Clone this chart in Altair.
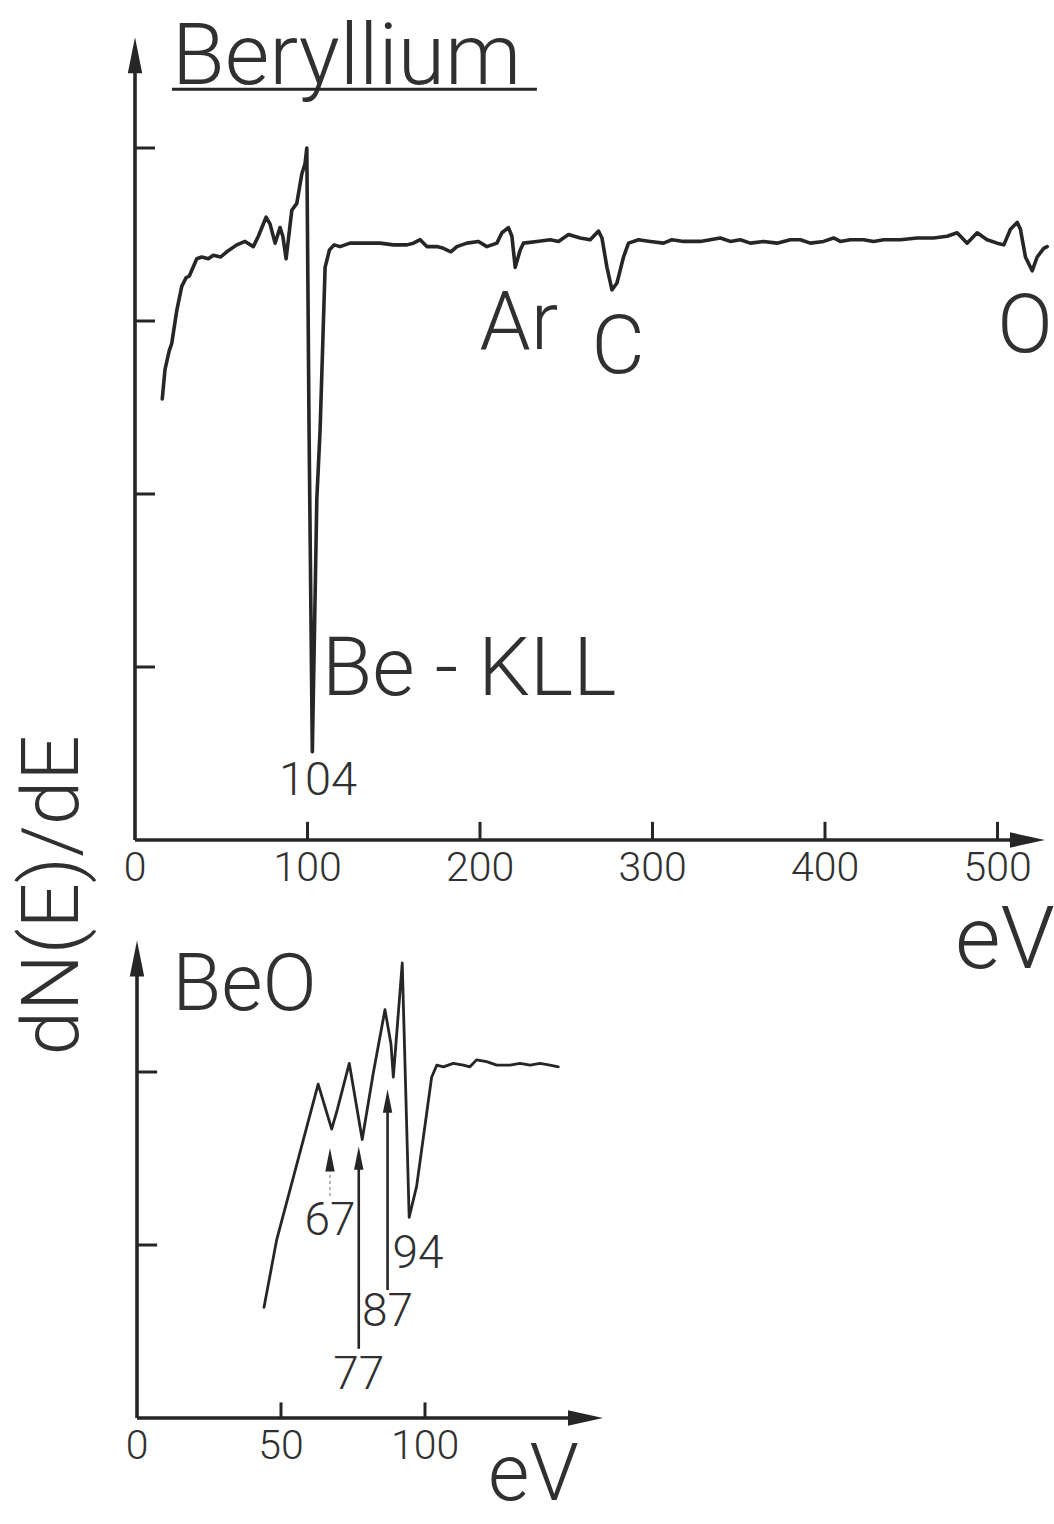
import altair as alt
import pandas as pd

# ---------------- data ----------------
# Beryllium spectrum: energy (eV) and dN(E)/dE in arbitrary units (1 unit = 1 y-tick)
be_ev = [15.8, 17.4, 19.9, 21.3, 24.2, 27.1, 29.6, 31.5, 35.8, 38.7,
         42.5, 45.4, 49.7, 53.2, 59.0, 63.8, 68.6, 71.5, 76.0, 78.3,
         81.2, 84.1, 85.7, 87.6, 90.9, 93.8, 96.7, 98.6, 99.6, 100.9,
         102.8, 105.4, 107.3, 110.2, 112.7, 115.4, 118.9, 124.7, 132.4, 142.1,
         149.8, 157.6, 161.4, 165.3, 169.2, 175.0, 178.8, 183.1, 186.6, 192.4,
         199.1, 204.0, 209.8, 212.7, 216.5, 218.5, 220.4, 223.3, 225.2, 233.0,
         240.7, 245.5, 251.3, 258.1, 263.9, 268.7, 270.7, 273.6, 276.5, 279.4,
         283.2, 286.1, 291.9, 298.7, 306.4, 311.3, 318.0, 327.7, 339.3, 345.1,
         350.9, 356.7, 364.4, 372.2, 379.9, 385.7, 391.5, 399.2, 405.0, 408.9,
         414.7, 422.4, 428.2, 434.0, 443.7, 453.4, 463.0, 470.8, 476.6, 482.4,
         488.2, 494.0, 499.8, 503.7, 507.5, 511.4, 513.3, 516.2, 520.1, 523.0,
         526.8, 528.8]
be_val = [2.55, 2.72, 2.83, 2.87, 3.06, 3.20, 3.25, 3.26, 3.36, 3.37,
          3.36, 3.38, 3.37, 3.40, 3.44, 3.46, 3.43, 3.49, 3.60, 3.56,
          3.45, 3.54, 3.49, 3.36, 3.64, 3.68, 3.85, 3.91, 4.00, 2.37,
          0.51, 1.97, 2.37, 3.31, 3.41, 3.44, 3.43, 3.45, 3.45, 3.45,
          3.44, 3.44, 3.45, 3.47, 3.43, 3.43, 3.42, 3.40, 3.43, 3.45,
          3.46, 3.43, 3.45, 3.51, 3.54, 3.49, 3.31, 3.41, 3.45, 3.46,
          3.47, 3.46, 3.50, 3.48, 3.47, 3.52, 3.48, 3.31, 3.18, 3.22,
          3.37, 3.45, 3.47, 3.46, 3.45, 3.47, 3.46, 3.46, 3.48, 3.46,
          3.47, 3.45, 3.46, 3.45, 3.47, 3.47, 3.45, 3.46, 3.48, 3.46,
          3.47, 3.47, 3.46, 3.47, 3.47, 3.48, 3.48, 3.49, 3.51, 3.45,
          3.51, 3.47, 3.45, 3.44, 3.53, 3.57, 3.53, 3.37, 3.29, 3.37,
          3.42, 3.43]

# BeO spectrum
beo_ev = [44.1, 48.5, 62.9, 67.6, 69.5, 73.7, 78.2, 82.0, 86.1, 88.2,
          89.0, 92.1, 94.5, 97.1, 102.3, 104.1, 106.4, 109.8, 113.3, 115.6,
          117.9, 121.4, 124.9, 129.5, 133.0, 136.5, 139.9, 143.4, 146.3]
beo_val = [0.64, 1.03, 1.93, 1.67, 1.78, 2.05, 1.61, 1.99, 2.36, 2.16,
           1.97, 2.63, 1.16, 1.34, 1.97, 2.04, 2.03, 2.05, 2.04, 2.03,
           2.07, 2.06, 2.04, 2.04, 2.05, 2.04, 2.05, 2.04, 2.03]

top_xticks = [0, 100, 200, 300, 400, 500]
top_yticks = [1, 2, 3, 4]
bot_xticks = [0, 50, 100]
bot_yticks = [1, 2]

# peak annotations (label, centre x in eV, baseline y in units)
top_peaks = ["Ar", "C", "O"]
top_peak_x = [222.5, 280.0, 516.0]
top_peak_y = [2.84, 2.70, 2.82]

beo_arrows = [67, 77, 87]          # marked peak energies (eV)
beo_tip = [1.57, 1.58, 1.91]       # arrow tip heights
beo_tail = [1.27, 0.40, 0.74]      # arrow tail heights
beo_lab_y = [1.14, 0.25, 0.61]     # label heights

# ---------------- layout ----------------
W, H = 1054, 1524
T_X0, T_PX = 135, 1.725   # top panel: px of 0 eV, px per eV
T_Y0, T_PY = 840, 173     # top panel: px of 0 units, px per unit
B_X0, B_PX = 137, 2.88
B_Y0, B_PY = 1418, 173

TX = [-T_X0 / T_PX, (W - T_X0) / T_PX]
TY = [(T_Y0 - H) / T_PY, T_Y0 / T_PY]
BX = [-B_X0 / B_PX, (W - B_X0) / B_PX]
BY = [(B_Y0 - H) / B_PY, B_Y0 / B_PY]

INK = "#262626"
TXT = "#303030"
FONT = "Roboto"
UP = "M0,0 L0.2,1 L-0.2,1 Z"
RIGHT = "M0,0 L-1,-0.22 L-1,0.22 Z"


def xe(dom):
    return alt.X("x:Q", scale=alt.Scale(domain=dom, nice=False, zero=False), axis=None)


def ye(dom):
    return alt.Y("y:Q", scale=alt.Scale(domain=dom, nice=False, zero=False), axis=None)


def segs(rows, xd, yd, sw=3, color=INK, dash=None):
    df = pd.DataFrame(rows, columns=["x", "y", "x2", "y2"])
    kw = dict(strokeWidth=sw, color=color, strokeCap="butt")
    if dash:
        kw["strokeDash"] = dash
    return alt.Chart(df).mark_rule(**kw).encode(x=xe(xd), y=ye(yd), x2="x2:Q", y2="y2:Q")


def heads(xs, ys, xd, yd, shape, size):
    df = pd.DataFrame({"x": xs, "y": ys})
    return alt.Chart(df).mark_point(shape=shape, size=size, filled=True, opacity=1,
                                    color=INK, strokeWidth=0).encode(x=xe(xd), y=ye(yd))


def texts(labels, xs, ys, xd, yd, size, align="left", baseline="alphabetic", angle=0):
    df = pd.DataFrame({"t": labels, "x": xs, "y": ys})
    return alt.Chart(df).mark_text(font=FONT, fontWeight=300, fontSize=size, align=align,
                                   baseline=baseline, angle=angle, color=TXT).encode(
        x=xe(xd), y=ye(yd), text="t:N")


# ---------------- top panel: Beryllium ----------------
be_df = pd.DataFrame({"x": be_ev, "y": be_val})
be_line = alt.Chart(be_df).mark_line(color=INK, strokeWidth=3.6, strokeJoin="round",
                                     strokeCap="round").encode(x=xe(TX), y=ye(TY))

top_axes = segs([[0, 0, 0, 4.50], [0, 0, 520, 0]], TX, TY, sw=3.6)
top_tx = segs([[v, 0, v, 0.105] for v in top_xticks[1:]], TX, TY, sw=3)
top_ty = segs([[0, v, 11.6, v] for v in top_yticks], TX, TY, sw=3)
top_heads = heads([0], [4.64], TX, TY, UP, 5184) + heads([527.5], [0], TX, TY, RIGHT, 4900)
top_ticklab = texts([str(v) for v in top_xticks], top_xticks, [-0.165] * 6, TX, TY, 41,
                    align="center", baseline="middle")
title = texts(["Beryllium"], [21.4], [4.37], TX, TY, 86)
underline = segs([[21.4, 4.34, 233.0, 4.34]], TX, TY, sw=3)
kll = texts(["Be - KLL"], [108.4], [0.84], TX, TY, 82)
lab104 = texts(["104"], [106.1], [0.26], TX, TY, 47, align="center")
peaks = texts(top_peaks, top_peak_x, top_peak_y, TX, TY, 82, align="center")
ev_top = texts(["eV"], [475.4], [-0.74], TX, TY, 88)
ylab = texts(["dN(E)/dE"], [-47.0], [-0.32], TX, TY, 80, align="center",
             baseline="middle", angle=270)

top = alt.layer(top_axes, top_tx, top_ty, top_heads, be_line, top_ticklab, title,
                underline, kll, lab104, peaks, ev_top, ylab)

# ---------------- bottom panel: BeO ----------------
beo_df = pd.DataFrame({"x": beo_ev, "y": beo_val})
beo_line = alt.Chart(beo_df).mark_line(color=INK, strokeWidth=2.8, strokeJoin="round",
                                       strokeCap="round").encode(x=xe(BX), y=ye(BY))

bot_axes = segs([[0, 0, 0, 2.60], [0, 0, 155, 0]], BX, BY, sw=3.6)
bot_tx = segs([[v, 0, v, 0.09] for v in bot_xticks[1:]], BX, BY, sw=3)
bot_ty = segs([[0, v, 7.0, v] for v in bot_yticks], BX, BY, sw=3)
bot_heads = heads([0], [2.76], BX, BY, UP, 5184) + heads([161.8], [0], BX, BY, RIGHT, 4900)
bot_ticklab = texts([str(v) for v in bot_xticks], bot_xticks, [-0.168] * 3, BX, BY, 41,
                    align="center", baseline="middle")
beo_title = texts(["BeO"], [12.2], [2.36], BX, BY, 80)
ev_bot = texts(["eV"], [121.9], [-0.475], BX, BY, 80)

arrow_heads = heads(beo_arrows, [t - 0.01 for t in beo_tip], BX, BY, UP, 2200)
arrow_dot = segs([[beo_arrows[0], beo_tip[0] - 0.13, beo_arrows[0], beo_tail[0]]], BX, BY,
                 sw=1.8, color="#b0b0b0", dash=[3, 3])
arrow_shafts = segs([[beo_arrows[i], beo_tip[i] - 0.12, beo_arrows[i], beo_tail[i]]
                     for i in (1, 2)], BX, BY, sw=2.6)
arrow_labels = texts([str(v) for v in beo_arrows], beo_arrows, beo_lab_y, BX, BY, 46,
                     align="center", baseline="middle")
lab94 = texts(["94"], [97.6], [0.95], BX, BY, 46, align="center", baseline="middle")

bottom = alt.layer(bot_axes, bot_tx, bot_ty, bot_heads, beo_line, bot_ticklab, beo_title,
                   ev_bot, arrow_dot, arrow_shafts, arrow_heads, arrow_labels, lab94)

chart = alt.layer(top, bottom).resolve_scale(x="independent", y="independent").properties(
    width=W, height=H, autosize=alt.AutoSizeParams(type="none"), padding=0,
    background="white").configure_view(stroke=None)

chart.save("out.html", embed_options={"renderer": "svg", "actions": False})
